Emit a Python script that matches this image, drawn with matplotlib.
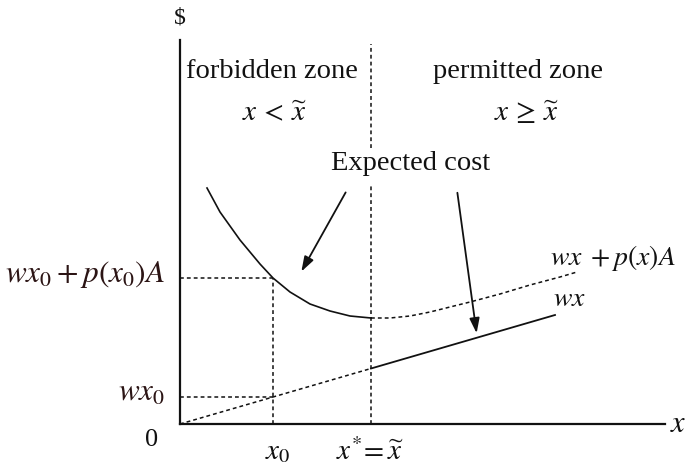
import numpy as np
import matplotlib.pyplot as plt

plt.rcParams['mathtext.fontset'] = 'stix'
plt.rcParams['font.family'] = 'Liberation Serif'

# wx line (slope)
wx_x = [0, 93, 191, 375]
wx_y = [0, 27, 55.5, 109]

# expected cost curve wx + p(x)A, solid part (forbidden zone)
cost_x_solid = [27, 40, 60, 80, 93, 110, 130, 150, 170, 191]
cost_y_solid = [236, 212, 184, 160, 146, 132, 120, 113, 108, 106]
# dashed continuation (permitted zone)
cost_x_dash = [191, 210, 230, 250, 270, 290, 320, 350, 380, 397]
cost_y_dash = [106, 106, 108, 112, 117, 122, 130, 139, 147, 152]

x0 = 93
x_star = 191
wx0 = 27
cost_x0 = 146

fig = plt.figure(figsize=(6.85, 4.67), dpi=100)
ax = fig.add_axes([0, 0, 1, 1])
ax.set_xlim(-180, 505)
ax.set_ylim(-43, 424)
ax.axis('off')

ink = '#111111'
dash = (0, (2.5, 2))

# axes
ax.plot([0, 485], [0, 0], color=ink, lw=1.6)
ax.plot([0, 0], [0, 384], color=ink, lw=1.6)
ax.text(0, 406, '$', fontsize=17, ha='center', va='center', color=ink)
ax.text(498, 0, '$x$', fontsize=22, ha='center', va='center', color=ink)
ax.text(-28, -16, '0', fontsize=19, ha='center', va='center', color=ink)

# wx line: dashed up to x*, solid after
ax.plot(wx_x[:3], wx_y[:3], color=ink, lw=1.1, linestyle=dash)
ax.plot(wx_x[2:], wx_y[2:], color=ink, lw=1.3)

# expected cost
ax.plot(cost_x_solid, cost_y_solid, color=ink, lw=1.2)
ax.plot(cost_x_dash, cost_y_dash, color=ink, lw=1.1, linestyle=dash)

# guide lines
ax.plot([x0, x0], [0, cost_x0], color=ink, lw=1.1, linestyle=dash)
ax.plot([0, x0], [cost_x0, cost_x0], color=ink, lw=1.1, linestyle=dash)
ax.plot([0, x0], [wx0, wx0], color=ink, lw=1.1, linestyle=dash)
ax.plot([x_star, x_star], [0, 238], color=ink, lw=1.1, linestyle=dash)
ax.plot([x_star, x_star], [276, 380], color=ink, lw=1.1, linestyle=dash)

# zone labels
ax.text(92, 352, 'forbidden zone', fontsize=20.5, ha='center', va='center', color=ink)
ax.text(338, 352, 'permitted zone', fontsize=20.5, ha='center', va='center', color=ink)
ax.text(95, 311, r'$x\,<\,\widetilde{x}$', fontsize=21, ha='center', va='center', color=ink)
ax.text(347, 311, r'$x\,\geq\,\widetilde{x}$', fontsize=21, ha='center', va='center', color=ink)

# expected cost label and arrows
ax.text(231, 261, 'Expected cost', fontsize=20.5, ha='center', va='center', color=ink)
ax.annotate('', xy=(120, 150), xytext=(167, 234),
            arrowprops=dict(arrowstyle='-|>,head_length=0.9,head_width=0.3',
                            color=ink, lw=1.3))
ax.annotate('', xy=(297, 88), xytext=(277, 234),
            arrowprops=dict(arrowstyle='-|>,head_length=0.9,head_width=0.3',
                            color=ink, lw=1.3))

# curve labels
ax.text(370, 166, r'$wx\;+p(x)A$', fontsize=20, ha='left', va='center', color=ink)
ax.text(373, 124, r'$wx$', fontsize=20, ha='left', va='center', color=ink)

# axis value labels
lab = '#2b1414'
ax.text(-15, cost_x0 + 3, r'$wx_0+p(x_0)A$', fontsize=22.5, ha='right', va='center', color=lab)
ax.text(-15, wx0 + 4, r'$wx_0$', fontsize=22.5, ha='right', va='center', color=lab)
ax.text(x0 + 5, -28, r'$x_0$', fontsize=21, ha='center', va='center', color=ink)
ax.text(x_star - 1, -28, r'$x^{*}\!=\widetilde{x}$', fontsize=21, ha='center', va='center', color=ink)

fig.savefig('out.png', dpi=100, facecolor='white')
